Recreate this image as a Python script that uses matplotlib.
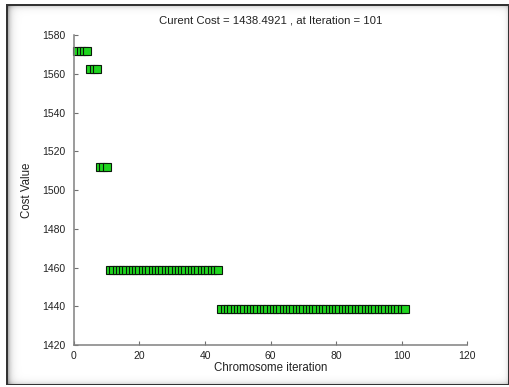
import numpy as np
import matplotlib
matplotlib.use('Agg')
import matplotlib.pyplot as plt

# best cost per generation (cost stays flat between drops)
step_start = [1, 5, 8, 11, 45]
step_cost = [1572.0, 1562.5, 1512.0, 1458.5, 1438.4921]
last_iter = 101

x_ticks = [0, 20, 40, 60, 80, 100, 120]
y_ticks = [1420, 1440, 1460, 1480, 1500, 1520, 1540, 1560, 1580]


def main():
    plt.rcParams['font.family'] = ['Liberation Sans', 'DejaVu Sans']

    iters = np.arange(1, last_iter + 1)
    lengths = np.diff(step_start + [last_iter + 1])
    costs = np.repeat(step_cost, lengths)

    fig = plt.figure(figsize=(5.1, 3.87), dpi=100)

    # window frame with inner shadow, like the screen grab
    W, H = 510, 387
    L, R, T, B = 7, 508, 5, 384
    yy, xx = np.mgrid[0:H, 0:W]
    img = np.ones((H, W))
    inside = (xx > L) & (xx < R) & (yy > T) & (yy < B)
    shade = (0.4 * np.exp(-(xx - L) / 3.0) + 0.2 * np.exp(-(yy - T) / 2.5)
             + 0.2 * np.exp(-(B - yy) / 2.5) + 0.15 * np.exp(-(R - xx) / 2.0))
    img[inside] = 1.0 - np.clip(shade[inside], 0, 0.7)
    edge = (((xx == L) | (xx == L - 1) | (xx == R) | (yy == T) | (yy == T - 1) | (yy == B))
            & (xx >= L - 1) & (xx <= R) & (yy >= T - 1) & (yy <= B))
    img[edge] = 0.2
    bg = fig.add_axes([0, 0, 1, 1], zorder=-1)
    bg.imshow(img, cmap='gray', vmin=0, vmax=1, aspect='auto', interpolation='nearest')
    bg.axis('off')

    ax = fig.add_axes([0.145, 0.1085, 0.771, 0.801])
    ax.patch.set_alpha(0)
    ax.plot(iters, costs, 's', ms=5.6, mfc='#1fd41f', mec='#0a1a0a', mew=0.8, clip_on=False)

    ax.set_xlim(0, 120)
    ax.set_ylim(1420, 1580)
    ax.set_xticks(x_ticks)
    ax.set_yticks(y_ticks)
    for s in ['top', 'right']:
        ax.spines[s].set_visible(False)
    for s in ['left', 'bottom']:
        ax.spines[s].set_color('#808080')
        ax.spines[s].set_linewidth(1.1)
    ax.tick_params(direction='in', length=3, width=0.8, color='#707070',
                   labelsize=7.5, labelcolor='#222222', pad=4)
    ax.tick_params(axis='y', pad=6)

    ax.set_xlabel('Chromosome iteration', fontsize=8.3, color='#222222', labelpad=1)
    ax.set_ylabel('Cost Value', fontsize=8.3, color='#222222', labelpad=7)
    ax.set_title('Curent Cost = %.4f , at Iteration = %d' % (costs[-1], last_iter),
                 fontsize=8.2, color='#222222', pad=8)

    fig.savefig('out.png', dpi=100)


if __name__ == '__main__':
    main()
